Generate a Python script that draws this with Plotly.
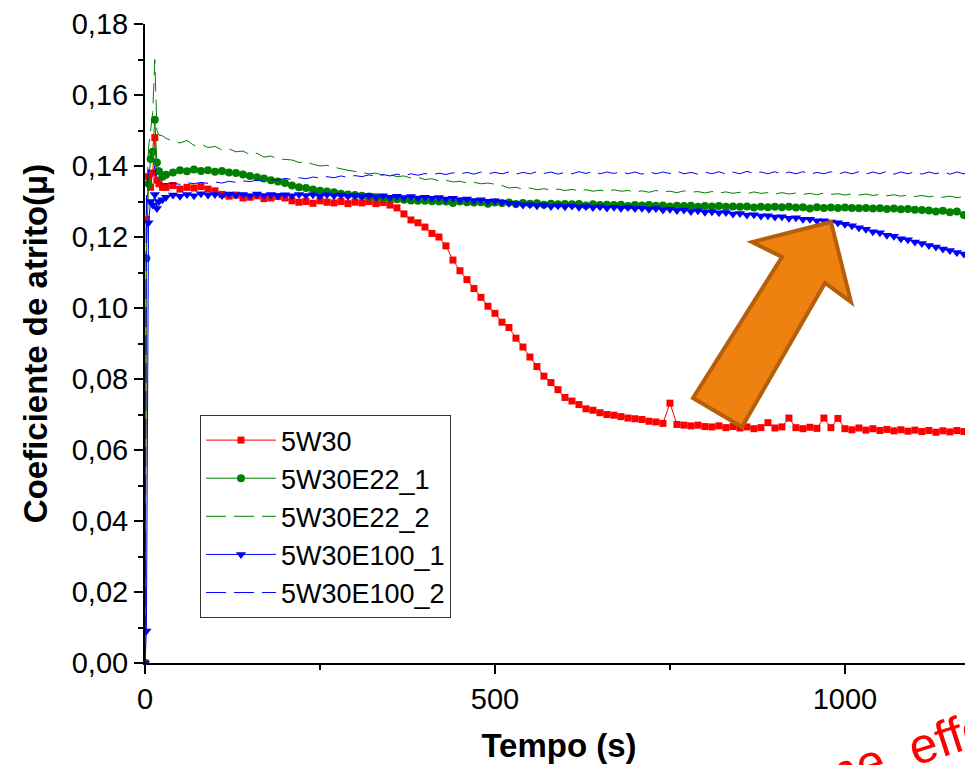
import plotly.graph_objects as go

# ---- data ----
TIME = [0, 2, 5, 8, 11, 14, 17, 20, 25] + list(range(30, 1181, 10))

RED_5W30 = [
    0.000, 0.125, 0.137, 0.134, 0.138, 0.148, 0.136, 0.135, 0.134,
    0.1340, 0.1345, 0.1335, 0.1340, 0.1338, 0.1342, 0.1335, 0.1330,
    0.1320, 0.1315, 0.1318, 0.1310, 0.1312, 0.1316, 0.1308, 0.1310, 0.1314, 0.1310,
    0.1302, 0.1298, 0.1300, 0.1295, 0.1302, 0.1298, 0.1296, 0.1300, 0.1294, 0.1298,
    0.1296, 0.1300, 0.1294, 0.1297, 0.1290, 0.1282, 0.1265, 0.1248, 0.1240, 0.1228,
    0.1210, 0.1200, 0.1175, 0.1135, 0.1105, 0.1080, 0.1055, 0.1030, 0.1005, 0.0985,
    0.0960, 0.0945, 0.0915, 0.0890, 0.0862, 0.0835, 0.0808, 0.0790, 0.0770, 0.0748,
    0.0738, 0.0728, 0.0716, 0.0712, 0.0705, 0.0700, 0.0698, 0.0694, 0.0690, 0.0688,
    0.0686, 0.0681, 0.0679, 0.0675, 0.0732, 0.0672, 0.0670, 0.0668, 0.0670, 0.0666,
    0.0665, 0.0668, 0.0663, 0.0666, 0.0662, 0.0665, 0.0660, 0.0663, 0.0677, 0.0662,
    0.0665, 0.0690, 0.0663, 0.0660, 0.0664, 0.0661, 0.0690, 0.0663, 0.0689, 0.0660,
    0.0657, 0.0662, 0.0656, 0.0660, 0.0655, 0.0658, 0.0654, 0.0657, 0.0653, 0.0656,
    0.0652, 0.0655, 0.0650, 0.0654, 0.0651, 0.0655, 0.0652, 0.0656,
]

GREEN_E22_1 = [
    0.000, 0.114, 0.135, 0.142, 0.144, 0.153, 0.141, 0.1385, 0.137,
    0.1375, 0.1382, 0.1388, 0.1385, 0.1390, 0.1386, 0.1388, 0.1384,
    0.1386, 0.1382, 0.1380, 0.1376, 0.1372, 0.1368, 0.1365, 0.1360, 0.1356, 0.1352,
    0.1345, 0.1340, 0.1338, 0.1334, 0.1330, 0.1328, 0.1326, 0.1322, 0.1320, 0.1318,
    0.1316, 0.1314, 0.1312, 0.1310, 0.1308, 0.1306, 0.1305, 0.1303, 0.1302, 0.1302,
    0.1301, 0.1300, 0.1300, 0.1296, 0.1300, 0.1298, 0.1297, 0.1298, 0.1294, 0.1297,
    0.1296, 0.1297, 0.1293, 0.1296, 0.1294, 0.1295, 0.1291, 0.1294, 0.1292, 0.1293,
    0.1292, 0.1293, 0.1289, 0.1292, 0.1290, 0.1291, 0.1290, 0.1291, 0.1287, 0.1290,
    0.1289, 0.1290, 0.1288, 0.1289, 0.1286, 0.1288, 0.1287, 0.1288, 0.1285, 0.1287,
    0.1286, 0.1287, 0.1285, 0.1286, 0.1285, 0.1286, 0.1283, 0.1285, 0.1284, 0.1285,
    0.1284, 0.1285, 0.1283, 0.1284, 0.1280, 0.1284, 0.1282, 0.1283, 0.1282, 0.1283,
    0.1282, 0.1281, 0.1282, 0.1280, 0.1281, 0.1279, 0.1280, 0.1278, 0.1279, 0.1277,
    0.1276, 0.1275, 0.1272, 0.1274, 0.1270, 0.1272, 0.1262, 0.1270,
]

GREEN_E22_2 = [
    0.000, 0.128, 0.145, 0.150, 0.155, 0.170, 0.150, 0.1487, 0.1485,
    0.1478, 0.1470, 0.1465, 0.1472, 0.1458, 0.1462, 0.1452, 0.1455,
    0.1445, 0.1448, 0.1440, 0.1442, 0.1432, 0.1436, 0.1425, 0.1428, 0.1420, 0.1418,
    0.1417, 0.1410, 0.1412, 0.1405, 0.1400, 0.1402, 0.1396, 0.1392, 0.1388, 0.1385,
    0.1382, 0.1378, 0.1380, 0.1374, 0.1376, 0.1370, 0.1372, 0.1366, 0.1368, 0.1362,
    0.1364, 0.1358, 0.1360, 0.1355, 0.1357, 0.1352, 0.1354, 0.1350, 0.1352, 0.1348,
    0.1345, 0.1338, 0.1340, 0.1335, 0.1338, 0.1333, 0.1336, 0.1332, 0.1335, 0.1331,
    0.1334, 0.1330, 0.1333, 0.1329, 0.1332, 0.1328, 0.1333, 0.1329, 0.1331, 0.1327,
    0.1330, 0.1326, 0.1331, 0.1327, 0.1329, 0.1325, 0.1330, 0.1326, 0.1328, 0.1324,
    0.1328, 0.1324, 0.1327, 0.1323, 0.1326, 0.1322, 0.1327, 0.1323, 0.1325, 0.1321,
    0.1325, 0.1321, 0.1324, 0.1320, 0.1323, 0.1319, 0.1324, 0.1320, 0.1322, 0.1318,
    0.1322, 0.1318, 0.1321, 0.1317, 0.1320, 0.1316, 0.1319, 0.1315, 0.1318, 0.1314,
    0.1317, 0.1313, 0.1316, 0.1312, 0.1315, 0.1311, 0.1314, 0.1310,
]

BLUE_E100_1 = [
    0.000, 0.009, 0.124, 0.130, 0.129, 0.132, 0.128, 0.130, 0.1305,
    0.1312, 0.1318, 0.1315, 0.1320, 0.1316, 0.1322, 0.1318, 0.1320,
    0.1317, 0.1321, 0.1318, 0.1320, 0.1316, 0.1321, 0.1317, 0.1320, 0.1316, 0.1319,
    0.1316, 0.1320, 0.1317, 0.1319, 0.1315, 0.1319, 0.1316, 0.1318, 0.1315, 0.1317,
    0.1314, 0.1317, 0.1313, 0.1316, 0.1312, 0.1315, 0.1311, 0.1314, 0.1310, 0.1312,
    0.1309, 0.1311, 0.1307, 0.1309, 0.1305, 0.1307, 0.1303, 0.1305, 0.1301, 0.1302,
    0.1298, 0.1295, 0.1293, 0.1290, 0.1291, 0.1288, 0.1290, 0.1286, 0.1288, 0.1285,
    0.1287, 0.1284, 0.1286, 0.1283, 0.1285, 0.1282, 0.1284, 0.1281, 0.1283, 0.1280,
    0.1281, 0.1278, 0.1280, 0.1276, 0.1278, 0.1275, 0.1276, 0.1272, 0.1274, 0.1270,
    0.1271, 0.1268, 0.1269, 0.1265, 0.1266, 0.1262, 0.1263, 0.1259, 0.1260, 0.1256,
    0.1257, 0.1253, 0.1254, 0.1250, 0.1250, 0.1246, 0.1246, 0.1242, 0.1240, 0.1236,
    0.1232, 0.1226, 0.1222, 0.1215, 0.1212, 0.1205, 0.1202, 0.1195, 0.1192, 0.1186,
    0.1182, 0.1176, 0.1172, 0.1166, 0.1162, 0.1156, 0.1152, 0.1146,
]

BLUE_E100_2 = [
    0.000, 0.131, 0.139, 0.137, 0.1375, 0.140, 0.136, 0.1355, 0.135,
    0.1350, 0.1352, 0.1348, 0.1353, 0.1350, 0.1354, 0.1351, 0.1355,
    0.1352, 0.1357, 0.1354, 0.1358, 0.1356, 0.1360, 0.1357, 0.1362, 0.1360, 0.1365,
    0.1362, 0.1367, 0.1364, 0.1369, 0.1366, 0.1370, 0.1367, 0.1372, 0.1368, 0.1373,
    0.1370, 0.1375, 0.1371, 0.1376, 0.1372, 0.1377, 0.1373, 0.1378, 0.1374, 0.1379,
    0.1375, 0.1380, 0.1376, 0.1381, 0.1377, 0.1382, 0.1377, 0.1383, 0.1378, 0.1382,
    0.1378, 0.1383, 0.1377, 0.1382, 0.1378, 0.1384, 0.1379, 0.1383, 0.1377, 0.1382,
    0.1378, 0.1384, 0.1379, 0.1385, 0.1378, 0.1383, 0.1379, 0.1384, 0.1378, 0.1383,
    0.1377, 0.1384, 0.1378, 0.1383, 0.1379, 0.1385, 0.1378, 0.1382, 0.1377, 0.1383,
    0.1378, 0.1384, 0.1377, 0.1383, 0.1378, 0.1385, 0.1379, 0.1383, 0.1378, 0.1384,
    0.1377, 0.1383, 0.1378, 0.1384, 0.1377, 0.1382, 0.1378, 0.1384, 0.1377, 0.1383,
    0.1378, 0.1384, 0.1377, 0.1383, 0.1378, 0.1385, 0.1377, 0.1383, 0.1378, 0.1384,
    0.1377, 0.1383, 0.1378, 0.1384, 0.1377, 0.1383, 0.1378, 0.1382,
]

SERIES_NAMES = ["5W30", "5W30E22_1", "5W30E22_2", "5W30E100_1", "5W30E100_2"]
X_TICKS = [0, 500, 1000]
Y_TICKS = [0.00, 0.02, 0.04, 0.06, 0.08, 0.10, 0.12, 0.14, 0.16, 0.18]

FONT = "Liberation Sans"

fig = go.Figure()
fig.add_trace(go.Scatter(x=TIME, y=RED_5W30, name=SERIES_NAMES[0], mode="lines+markers",
                         line=dict(color="#FF0000", width=1),
                         marker=dict(symbol="square", size=7, color="#FF0000")))
fig.add_trace(go.Scatter(x=TIME, y=GREEN_E22_1, name=SERIES_NAMES[1], mode="lines+markers",
                         line=dict(color="#008000", width=1),
                         marker=dict(symbol="circle", size=8, color="#008000")))
fig.add_trace(go.Scatter(x=TIME, y=GREEN_E22_2, name=SERIES_NAMES[2], mode="lines",
                         line=dict(color="#008000", width=1, dash="20px,8px")))
fig.add_trace(go.Scatter(x=TIME, y=BLUE_E100_1, name=SERIES_NAMES[3], mode="lines+markers",
                         line=dict(color="#0000FF", width=1),
                         marker=dict(symbol="triangle-down", size=9, color="#0000FF")))
fig.add_trace(go.Scatter(x=TIME, y=BLUE_E100_2, name=SERIES_NAMES[4], mode="lines",
                         line=dict(color="#0000FF", width=1, dash="20px,8px")))

X_MAX = 1183

# the page body adds an 8 px margin, so the figure is 8 px smaller on each side
fig.update_layout(
    width=965, height=757,
    margin=dict(l=137, r=0, t=16, b=102, autoexpand=False),
    paper_bgcolor="white", plot_bgcolor="white",
    separators=",.",
    font=dict(family=FONT, size=29, color="black"),
    showlegend=True,
    legend=dict(x=0.0664, y=0.388, xanchor="left", yanchor="top",
                bgcolor="white", bordercolor="#333333", borderwidth=1,
                font=dict(family=FONT, size=27, color="black"),
                itemwidth=70, tracegroupgap=0),
    xaxis=dict(range=[0, X_MAX], tickvals=X_TICKS, tickformat="d", automargin=False,
               showgrid=False, zeroline=False, showline=True, linecolor="black", linewidth=2,
               ticks="outside", ticklen=9, tickwidth=2, tickcolor="black",
               minor=dict(dtick=250, ticks="outside", ticklen=5, tickwidth=2, tickcolor="black"),
               title=dict(text="<b>Tempo (s)</b>", font=dict(family=FONT, size=33), standoff=20)),
    xaxis2=dict(range=[0, X_MAX], overlaying="x", side="top", anchor="y", automargin=False,
                showticklabels=False, showgrid=False, zeroline=False,
                showline=True, linecolor="black", linewidth=2,
                tickvals=X_TICKS, ticks="inside", ticklen=8, tickwidth=2, tickcolor="black",
                minor=dict(dtick=250, ticks="inside", ticklen=6, tickwidth=2, tickcolor="black")),
    yaxis=dict(range=[0, 0.18], tickvals=Y_TICKS, tickformat=".2f", automargin=False,
               showgrid=False, zeroline=False, showline=True, linecolor="black", linewidth=2,
               ticks="outside", ticklen=9, tickwidth=2, tickcolor="black",
               minor=dict(dtick=0.01, ticks="outside", ticklen=5, tickwidth=2, tickcolor="black"),
               title=dict(text="<b>Coeficiente de atrito(μ)</b>", font=dict(family=FONT, size=33),
                          standoff=14)),
)

# orange arrow (paper coordinates)
arrow_pts = [(0.8285, 0.6901), (0.8527, 0.5649), (0.8213, 0.5947), (0.7210, 0.3693),
             (0.6618, 0.4147), (0.7693, 0.6354), (0.7331, 0.6588)]
path = "M " + " L ".join(f"{x},{y}" for x, y in arrow_pts) + " Z"
fig.add_shape(type="path", path=path, xref="paper", yref="paper", layer="above",
              fillcolor="#EE810F", line=dict(color="#B4600B", width=4))

fig.add_annotation(text="me\u00a0 effect", xref="paper", yref="paper", x=0.9384, y=-0.130,
                   showarrow=False, textangle=-18, xanchor="center", yanchor="middle",
                   font=dict(family=FONT, size=50, color="#FF0000"))

fig.write_html("out.html")
